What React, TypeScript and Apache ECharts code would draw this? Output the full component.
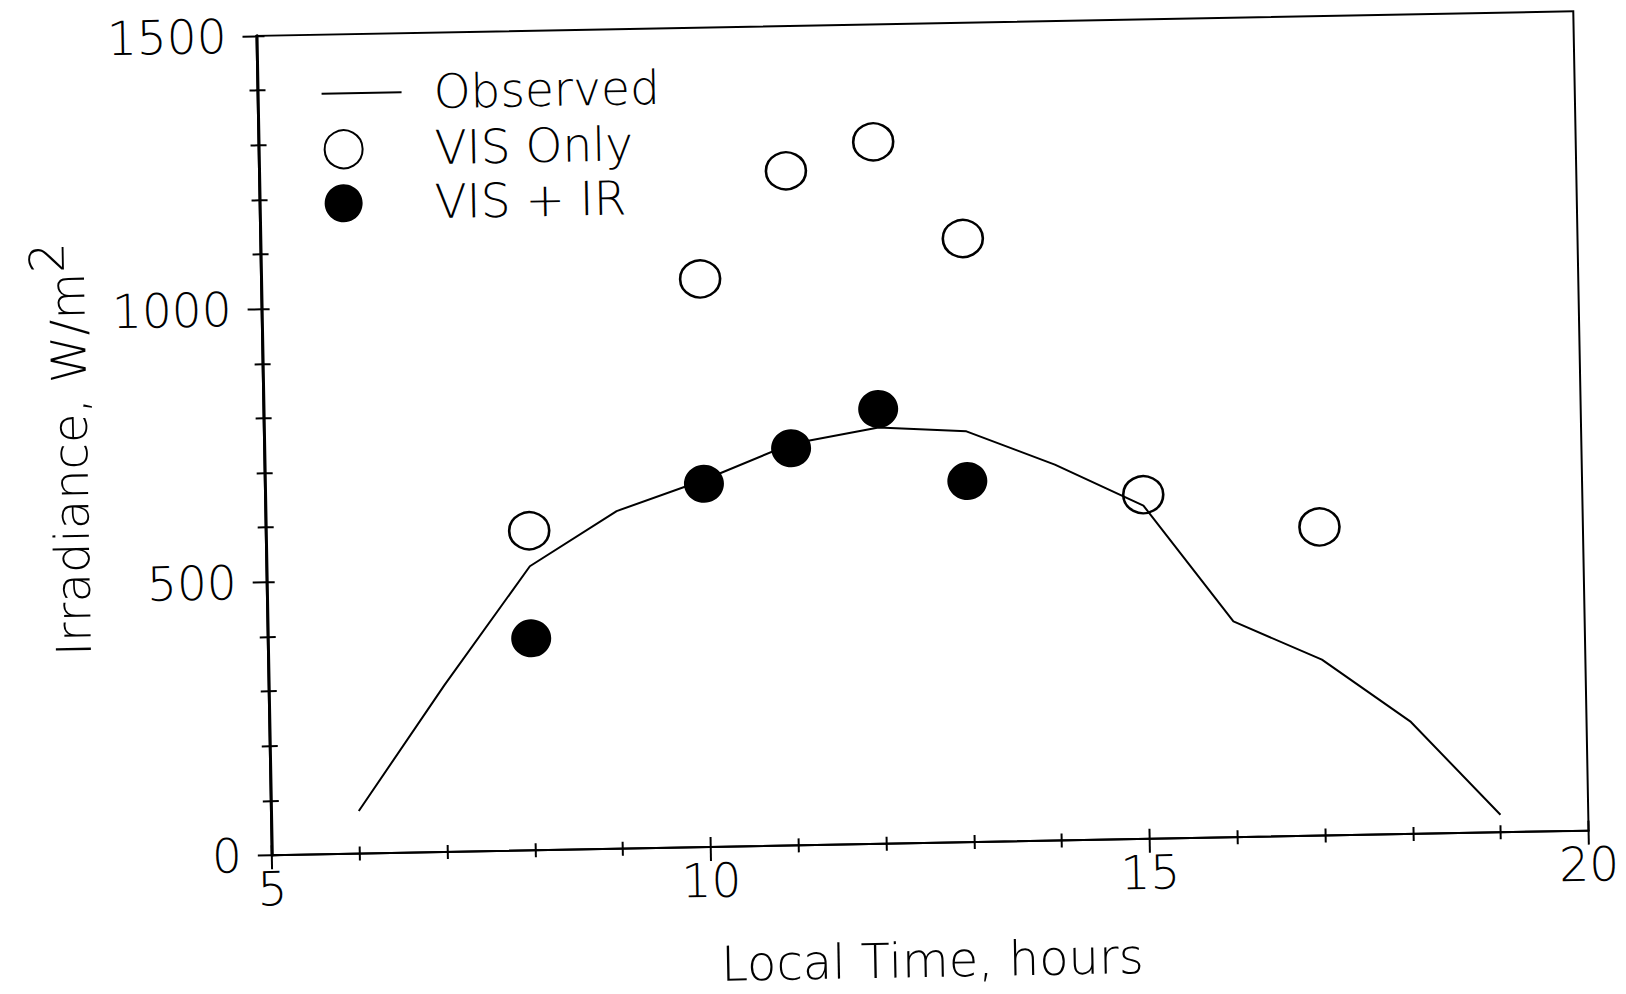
import React, { useEffect, useRef } from "react";
import * as echarts from "echarts";

// ---- data ----
const hours = [6, 7, 8, 9, 10, 11, 12, 13, 14, 15, 16, 17, 18, 19];
const observed = [78, 305, 520, 618, 672, 735, 762, 752, 688, 610, 395, 322, 205, 32];
const visOnlyHours = [8, 10, 11, 12, 13, 15, 17];
const visOnly = [585, 1040, 1235, 1285, 1105, 630, 565];
const visIrHours = [8, 10, 11, 12, 13];
const visIr = [388, 665, 727, 796, 661];
const xTicks = [5, 10, 15, 20];
const yTicks = [0, 500, 1000, 1500];
const seriesNames = ["Observed", "VIS Only", "VIS + IR"];

const FONT = "'DejaVu Sans', 'Liberation Sans', sans-serif";

export default function App() {
  const ref = useRef<HTMLDivElement>(null);

  useEffect(() => {
    const chart = echarts.init(ref.current!, null, { renderer: "svg" });
    const txt = { fontFamily: FONT, fontSize: 47, color: "#000", fontWeight: 200 as any };
    const nameTxt = { ...txt, fontSize: 48 };
    const xMin = xTicks[0];
    const xMax = xTicks[xTicks.length - 1];
    const xInt = xTicks[1] - xTicks[0];
    const yMin = yTicks[0];
    const yMax = yTicks[yTicks.length - 1];
    const yInt = yTicks[1] - yTicks[0];
    const black = "#000";
    const plain = (v: number) => String(v);

    const xBase = {
      type: "value",
      min: xMin,
      max: xMax,
      interval: xInt,
      splitLine: { show: false },
      minorSplitLine: { show: false },
    };
    const yBase = {
      type: "value",
      min: yMin,
      max: yMax,
      interval: yInt,
      splitLine: { show: false },
      minorSplitLine: { show: false },
    };

    chart.setOption({
      animation: false,
      backgroundColor: "#fff",
      grid: {
        left: 264,
        top: 19,
        width: 1317,
        height: 824,
        show: true,
        borderColor: black,
        borderWidth: 2,
        backgroundColor: "transparent",
      },
      legend: [
        {
          data: [{ name: seriesNames[0], icon: "rect" }],
          left: 328,
          top: 59,
          padding: 0,
          itemWidth: 80,
          itemHeight: 2,
          selectedMode: false,
          itemStyle: { color: black, borderWidth: 0 },
          textStyle: { ...txt, padding: [0, 0, 0, 27] },
        },
        {
          data: [seriesNames[1]],
          left: 329,
          top: 115,
          padding: 0,
          itemWidth: 40,
          itemHeight: 38,
          selectedMode: false,
          textStyle: { ...txt, padding: [0, 0, 0, 66] },
        },
        {
          data: [seriesNames[2]],
          left: 329,
          top: 169,
          padding: 0,
          itemWidth: 40,
          itemHeight: 38,
          selectedMode: false,
          textStyle: { ...txt, padding: [0, 0, 0, 66] },
        },
      ],
      xAxis: [
        {
          ...xBase,
          position: "bottom",
          name: "Local Time, hours",
          nameLocation: "middle",
          nameGap: 93,
          nameTextStyle: { ...nameTxt },
          axisLine: { show: true, onZero: false, lineStyle: { color: black, width: 2 } },
          axisTick: { show: true, inside: false, length: 14, lineStyle: { color: black, width: 2 } },
          minorTick: { show: true, splitNumber: 5, length: 7, lineStyle: { color: black, width: 2 } },
          axisLabel: { ...txt, margin: 10, showMinLabel: true, showMaxLabel: true, formatter: plain },
        },
        {
          ...xBase,
          position: "bottom",
          axisLine: { show: false, onZero: false },
          axisTick: { show: true, inside: true, length: 10, lineStyle: { color: black, width: 2 } },
          minorTick: { show: true, splitNumber: 5, length: 7, lineStyle: { color: black, width: 2 } },
          axisLabel: { show: false },
        },
      ],
      yAxis: [
        {
          ...yBase,
          position: "left",
          name: "Irradiance, W/m{sup|2}",
          nameLocation: "middle",
          nameRotate: 90,
          nameGap: 150,
          nameTextStyle: {
            ...nameTxt,
            rich: {
              sup: { ...nameTxt, padding: [0, 0, 40, 0] },
            },
          },
          axisLine: { show: true, onZero: false, lineStyle: { color: black, width: 3 } },
          axisTick: { show: true, inside: false, length: 14, lineStyle: { color: black, width: 2 } },
          minorTick: { show: true, splitNumber: 5, length: 8, lineStyle: { color: black, width: 2 } },
          axisLabel: { ...txt, margin: 30, showMinLabel: true, showMaxLabel: true, formatter: plain },
        },
        {
          ...yBase,
          position: "left",
          axisLine: { show: false, onZero: false },
          axisTick: { show: true, inside: true, length: 8, lineStyle: { color: black, width: 2 } },
          minorTick: { show: true, splitNumber: 5, length: 8, lineStyle: { color: black, width: 2 } },
          axisLabel: { show: false },
        },
      ],
      series: [
        {
          name: seriesNames[0],
          type: "line",
          xAxisIndex: 0,
          yAxisIndex: 0,
          data: hours.map((h, i) => [h, observed[i]]),
          symbol: "none",
          lineStyle: { color: black, width: 2 },
          itemStyle: { color: black },
          z: 2,
        },
        {
          name: seriesNames[1],
          type: "scatter",
          xAxisIndex: 0,
          yAxisIndex: 0,
          data: visOnlyHours.map((h, i) => [h, visOnly[i]]),
          symbol: "circle",
          symbolSize: [40, 37],
          itemStyle: { color: "rgba(0,0,0,0)", borderColor: black, borderWidth: 2.5, opacity: 1 },
          z: 3,
        },
        {
          name: seriesNames[2],
          type: "scatter",
          xAxisIndex: 0,
          yAxisIndex: 0,
          data: visIrHours.map((h, i) => [h, visIr[i]]),
          symbol: "circle",
          symbolSize: [40, 38],
          itemStyle: { color: black, opacity: 1 },
          z: 4,
        },
      ],
    });

    return () => chart.dispose();
  }, []);

  return (
    <div
      style={{
        position: "fixed",
        left: 0,
        top: 0,
        width: 1626,
        height: 994,
        overflow: "hidden",
        background: "#fff",
      }}
    >
      <div
        ref={ref}
        style={{
          position: "absolute",
          left: 0,
          top: 0,
          width: 1626,
          height: 994,
          transform: "rotate(-1.07deg)",
          transformOrigin: "922.75px 431.25px",
        }}
      />
    </div>
  );
}
